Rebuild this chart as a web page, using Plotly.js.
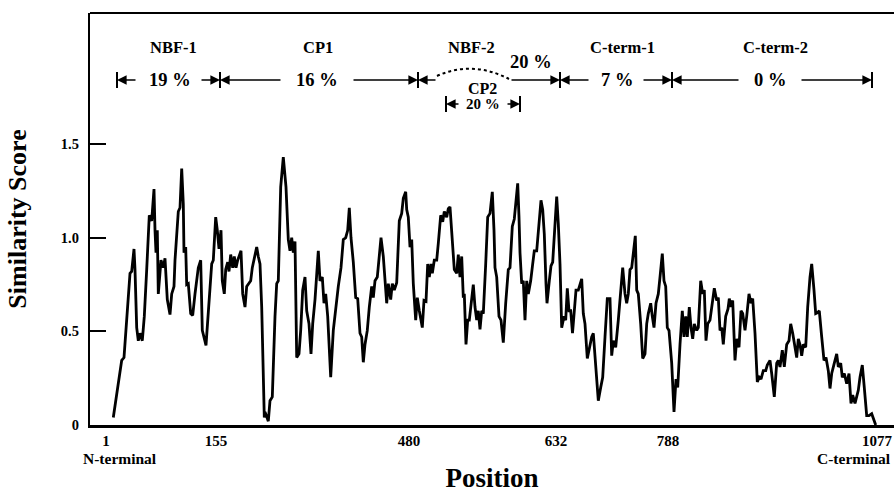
<!DOCTYPE html>
<html>
<head>
<meta charset="utf-8">
<script src="https://cdn.plot.ly/plotly-3.0.1.min.js"></script>
<style>html,body{margin:0;padding:0;background:#fff;}#chart{width:894px;height:493px;}</style>
</head>
<body>
<div id="chart"></div>
<script>
// Alignment column (horizontal plot coordinate) and similarity score
const alignCol = [23.3,31.7,34,37.7,40,41.7,44,45,46.7,48.3,50,52.3,54.3,56.7,59.3,61.7,64,65,66,67.3,68.3,71,73.3,75,77.3,80,81.7,84,85,88.3,90,91.7,93.3,94,95.7,96.7,98.3,100.7,102.7,105,108.3,110.7,112.3,116,118.3,121.7,123.3,125.7,127.3,129,131,132.3,134.3,135.7,137.7,139,140.7,142.7,144.3,146,147.7,149.3,151,152.7,155,156.7,159,160.7,162.3,164.3,166.7,168.3,170,171.7,174.3,
175,176.7,178.3,180,182.3,185,186.7,188.3,190.7,193.3,196,198.3,200,201.7,203.3,205,206.7,209,210.7,212.7,215,216.7,219,221,222.7,225,226.7,228.3,230,232.3,234,235.7,237.7,240.7,243.3,246,248.3,251,253.3,255.7,257.7,259.3,261,263.3,265.7,267.7,270,271.7,273.3,275,277.3,279.3,281.7,283.3,285,287.3,289,291,293.3,295,296.7,298.3,300.7,302.3,304.3,306.7,309.3,311.7,313.3,315.7,316.7,318.3,320,321.7,323.3,325.7,327.3,329.3,
330,332.3,334,336,337.7,339.3,341,342.3,344.3,346.7,348.3,350.7,352.7,354.3,356.7,358.3,360,362.3,364.3,366.7,368.3,370,371.7,373.3,374.3,376,377.7,379.3,381,383.3,385,386.7,388.3,390,391.7,393.3,395.7,397.7,400,402.3,404,405,406.7,409,411,413.3,415.7,418.3,420,422.3,424.3,426,427.7,429,430,431.7,433.3,435,436.7,438.3,440.7,442.7,444.3,446.7,449,451,452.7,454.3,456,457,459.3,461,462.7,465,466.7,468.3,470,471.7,474,475.7,477.3,479,480.7,482.5,484.3,
486,488.3,491.7,493.3,495,497.3,500,501.7,503.3,505.7,508.3,510.7,512.7,515,517.3,520,521.7,523.3,525.7,528.3,530.7,532.7,535,536.7,538.3,540,541.7,543.3,545.3,546.7,548.3,550.7,552.7,555,556.7,558.3,560.7,562.3,564,566,568.3,570,572.3,574,575.7,577.3,579,581.7,584,586,587.7,590,592.3,594,595.7,597.3,599.3,601,602.7,604.3,606.7,608.3,610.7,612.7,614.3,616,617.7,620,622.3,624.3,626.7,628.3,630,631.7,633.3,635.7,
638,639.3,641,642.7,645,646.7,649,651,652.7,655,656.7,659,661,662.7,665,667.3,669.3,671,673.3,675.7,677.3,680,681.7,684.3,686.7,688.3,690,692.3,694.3,696.7,699,700.7,702.7,704.3,706.7,708.3,710,711.7,713.3,715.7,717.7,720,721.7,724,725.7,727.7,729.3,731.7,734,736,738.3,740,741.7,744.3,746.7,748.3,750.7,752.3,754.3,756.7,759,761,762.7,765,766.7,768.3,770,772.3,774.3,776.7,779,781.7,784,785.7];
const score = [0.04,0.345,0.36,0.65,0.81,0.82,0.94,0.83,0.52,0.45,0.49,0.45,0.58,0.83,1.12,1.09,1.26,1.04,0.92,1.04,0.70,0.88,0.84,0.89,0.67,0.59,0.70,0.74,0.88,1.14,1.16,1.37,1.18,0.92,0.95,0.75,0.755,0.595,0.585,0.70,0.84,0.88,0.505,0.425,0.61,0.86,0.88,1.11,1.04,0.94,1.04,0.77,0.70,0.83,0.87,0.82,0.91,0.84,0.90,0.84,0.88,0.91,0.93,0.70,0.63,0.74,0.755,0.77,0.84,0.90,0.95,0.90,0.86,0.63,0.04,
0.07,0.04,0.02,0.13,0.15,0.58,0.755,0.77,1.27,1.43,1.27,0.99,0.93,1.00,0.92,0.98,0.36,0.38,0.505,0.72,0.79,0.61,0.54,0.38,0.54,0.67,0.79,0.93,0.77,0.79,0.65,0.70,0.58,0.255,0.505,0.65,0.74,0.84,0.99,1.00,1.04,1.16,1.00,0.87,0.68,0.675,0.49,0.47,0.335,0.43,0.505,0.63,0.74,0.68,0.77,0.79,0.90,1.00,0.90,0.79,0.65,0.755,0.67,0.755,0.72,0.76,1.09,1.13,1.21,1.245,1.15,1.11,0.95,0.99,0.755,0.56,0.68,0.61,
0.585,0.52,0.665,0.66,0.86,0.79,0.86,0.81,0.88,0.88,0.97,1.12,1.085,1.14,1.11,1.155,1.165,0.99,0.83,0.81,0.91,0.79,0.90,0.68,0.70,0.43,0.56,0.56,0.65,0.75,0.63,0.56,0.61,0.51,0.61,0.595,0.86,1.11,1.13,1.245,1.04,0.84,0.79,0.58,0.56,0.44,0.65,0.83,0.84,1.06,1.10,1.20,1.29,1.11,0.92,0.755,0.77,0.56,0.77,0.70,0.77,0.86,0.93,0.93,1.075,1.20,1.15,1.02,0.755,0.65,0.77,0.85,0.87,1.075,1.22,1.075,0.86,0.52,0.58,0.56,0.73,0.61,0.61,0.49,0.61,
0.72,0.72,0.78,0.595,0.54,0.355,0.43,0.47,0.49,0.33,0.13,0.20,0.255,0.47,0.675,0.675,0.37,0.45,0.415,0.56,0.72,0.84,0.70,0.65,0.70,0.83,0.84,0.915,1.01,0.72,0.70,0.54,0.355,0.38,0.54,0.595,0.65,0.58,0.52,0.65,0.70,0.79,0.915,0.77,0.74,0.52,0.505,0.33,0.07,0.245,0.20,0.43,0.61,0.47,0.58,0.47,0.63,0.52,0.46,0.54,0.505,0.52,0.77,0.70,0.72,0.45,0.54,0.56,0.65,0.73,0.665,0.68,0.505,0.52,0.43,0.58,
0.62,0.675,0.63,0.665,0.345,0.46,0.415,0.61,0.595,0.505,0.58,0.70,0.65,0.675,0.49,0.23,0.255,0.245,0.29,0.29,0.32,0.345,0.275,0.15,0.33,0.345,0.31,0.40,0.31,0.43,0.45,0.54,0.49,0.43,0.36,0.46,0.43,0.37,0.43,0.415,0.63,0.79,0.86,0.72,0.595,0.60,0.61,0.47,0.345,0.36,0.29,0.195,0.275,0.33,0.38,0.31,0.33,0.255,0.275,0.22,0.275,0.115,0.16,0.115,0.15,0.185,0.255,0.32,0.20,0.05,0.05,0.06,0.025,0.0];

// Tick labels (sequence positions) and where they sit along the alignment
const posTickVals = [16, 126, 319, 466, 578, 787];
const posTickText = ['1', '155', '480', '632', '788', '1077'];
const scoreTickVals = [0, 0.5, 1.0, 1.5];
const scoreTickText = ['0', '0.5', '1.0', '1.5'];

// Domain names and identity percentages
const domainNames = ['NBF-1', 'CP1', 'NBF-2', 'C-term-1', 'C-term-2'];
const domainPct = ['19 %', '16 %', '20 %', '7 %', '0 %'];
const subDomainName = 'CP2';
const subDomainPct = '20 %';

const F = 'Liberation Serif, Times New Roman, serif';
const ink = '#000';
const fnt = (s) => ({family: F, size: s, color: ink, weight: 700});

// helper: pixel row in the top band -> data y
const H = 412;
const vy = (py) => (425 - py) / (H / 2.2);

const ann = [];
const shapes = [];
// domain names
const nameX = [83, 228, 381, 532, 685];
domainNames.forEach((t, i) => ann.push({x: nameX[i], y: vy(47), xref: 'x', yref: 'y', text: t, showarrow: false, font: fnt(16.5)}));
// percentages
const pctPos = [[80, 80], [227, 80], [441, 62], [527, 80], [680, 80]];
domainPct.forEach((t, i) => ann.push({x: pctPos[i][0], y: vy(pctPos[i][1]), xref: 'x', yref: 'y', text: t, showarrow: false, font: fnt(18.5)}));
ann.push({x: 392, y: vy(88), xref: 'x', yref: 'y', text: subDomainName, showarrow: false, font: fnt(16)});
ann.push({x: 393, y: vy(104), xref: 'x', yref: 'y', text: subDomainPct, showarrow: false, font: fnt(15)});

// boundary bars
const bars = [[27, 80], [130, 80], [328, 80], [470, 80], [582, 80], [782, 80], [356, 104], [430, 104]];
bars.forEach(([x, py]) => shapes.push({type: 'line', xref: 'x', yref: 'y', x0: x, x1: x, y0: vy(py - 8), y1: vy(py + 8), line: {color: ink, width: 2}}));
// arrows: [tail, head, row]
const arrows = [[47, 27, 80], [110, 130, 80], [192, 130, 80], [262, 328, 80], [347, 328, 80], [420, 470, 80], [500, 470, 80], [552, 582, 80], [650, 582, 80], [710, 782, 80], [370, 356, 104], [416, 430, 104]];
arrows.forEach(([t, h, py]) => ann.push({x: h, y: vy(py), ax: t, ay: vy(py), xref: 'x', yref: 'y', axref: 'x', ayref: 'y', text: '', showarrow: true, arrowhead: 2, arrowsize: 1.2, arrowwidth: 1.6, arrowcolor: ink, standoff: 0, startstandoff: 0}));
// dotted arc over NBF-2 / CP2
shapes.push({type: 'path', xref: 'x', yref: 'y', path: `M 347 ${vy(76)} Q 382 ${vy(60)} 419 ${vy(79)}`, line: {color: ink, width: 2, dash: 'dot'}});
// top frame line
shapes.push({type: 'line', xref: 'paper', yref: 'paper', x0: 0, x1: 1, y0: 1, y1: 1, line: {color: ink, width: 2}});

// terminal labels
ann.push({x: 30, y: -0.108, xref: 'x', yref: 'paper', text: 'N-terminal', showarrow: false, font: fnt(15.5)});
ann.push({x: 803, y: -0.108, xref: 'x', yref: 'paper', xanchor: 'right', text: 'C-terminal', showarrow: false, font: fnt(15.5)});

const trace = {x: alignCol, y: score, type: 'scatter', mode: 'lines', line: {color: ink, width: 2.8}, hoverinfo: 'skip'};

const layout = {
  width: 894, height: 493,
  margin: {l: 90, r: 0, t: 13, b: 68},
  paper_bgcolor: '#fff', plot_bgcolor: '#fff',
  showlegend: false,
  xaxis: {range: [0, 804], showgrid: false, zeroline: false, showline: true, linewidth: 2.5, linecolor: ink,
    tickmode: 'array', tickvals: posTickVals, ticktext: posTickText, ticks: '', tickfont: fnt(15),
    title: {text: 'Position', font: fnt(27), standoff: 28}},
  yaxis: {range: [0, 2.2], showgrid: false, zeroline: false, showline: true, linewidth: 2.2, linecolor: ink,
    tickmode: 'array', tickvals: scoreTickVals, ticktext: scoreTickText, ticks: 'inside', ticklen: 16, tickwidth: 2.2, tickcolor: ink,
    tickfont: fnt(14.5), ticklabelstandoff: 6,
    title: {text: 'Similarity Score', font: fnt(26), standoff: 27}},
  annotations: ann,
  shapes: shapes
};
Plotly.newPlot('chart', [trace], layout, {staticPlot: true});
</script>
</body>
</html>
